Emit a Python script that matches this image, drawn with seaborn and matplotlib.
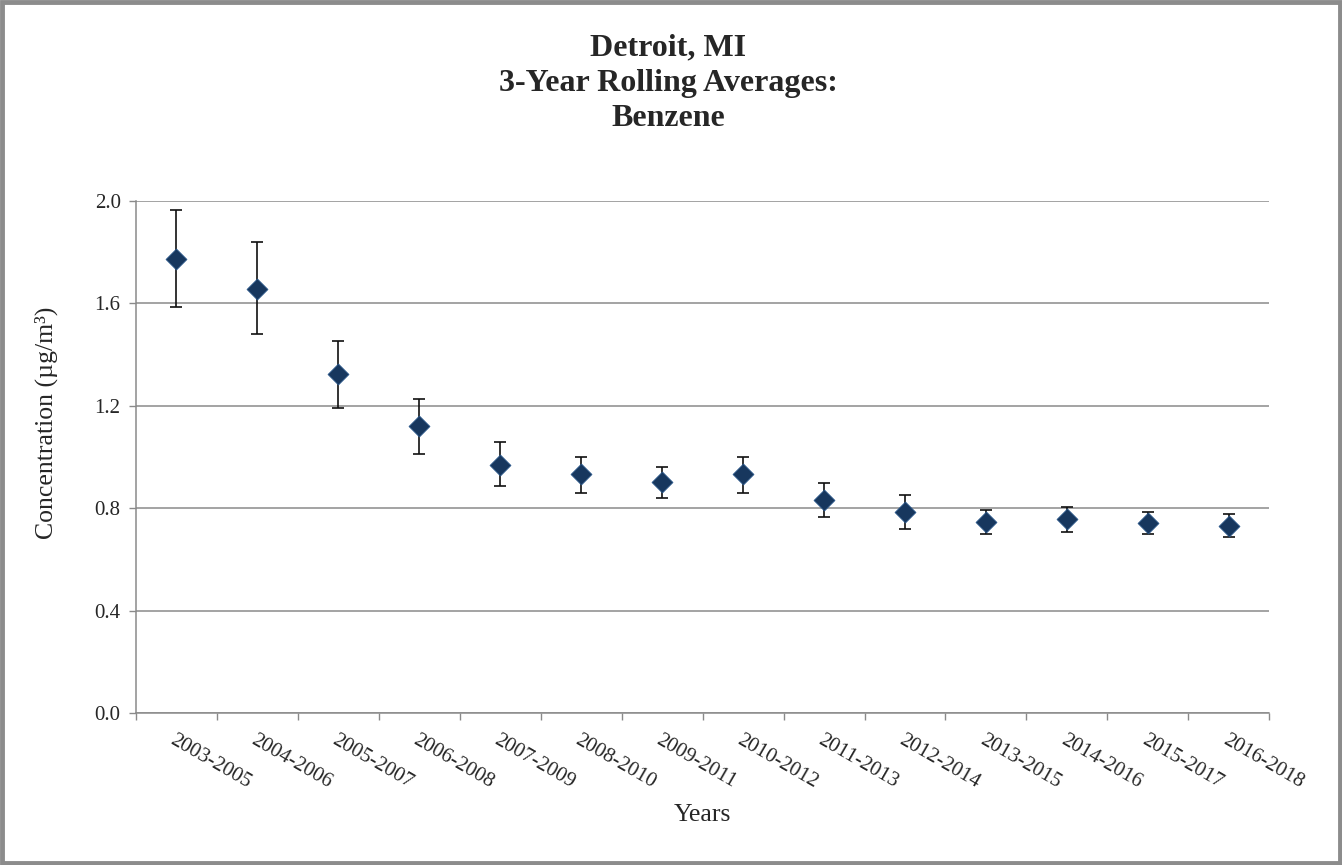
"""
Detroit, MI - 3-year rolling averages of benzene, with error bars.
"""

import numpy as np
import pandas as pd
import matplotlib
matplotlib.use("Agg")
import matplotlib.pyplot as plt
from matplotlib.patches import Rectangle
from matplotlib.ticker import FixedLocator
import seaborn as sns

periods = ['2003-2005', '2004-2006', '2005-2007', '2006-2008', '2007-2009',
           '2008-2010', '2009-2011', '2010-2012', '2011-2013', '2012-2014',
           '2013-2015', '2014-2016', '2015-2017', '2016-2018']
conc = [1.773, 1.656, 1.324, 1.121, 0.969, 0.934, 0.902,
        0.934, 0.834, 0.784, 0.746, 0.758, 0.742, 0.732]
lower = [1.586, 1.480, 1.191, 1.012, 0.887, 0.859, 0.840,
         0.859, 0.766, 0.717, 0.698, 0.707, 0.698, 0.689]
upper = [1.965, 1.840, 1.453, 1.227, 1.059, 1.000, 0.961,
         1.000, 0.897, 0.853, 0.792, 0.805, 0.785, 0.776]
y_ticks = [0.0, 0.4, 0.8, 1.2, 1.6, 2.0]

df = pd.DataFrame({'period': periods, 'conc': conc,
                   'lower': lower, 'upper': upper})

sns.set_theme(style='white')
plt.rcParams['font.family'] = ['Liberation Serif', 'DejaVu Serif']

fig = plt.figure(figsize=(13.42, 8.65), dpi=100)
ax = fig.add_axes([0.1013, 0.1757, 0.8445, 0.5919])

yerr = np.vstack([df['conc'] - df['lower'], df['upper'] - df['conc']])
ax.errorbar(df['period'], df['conc'], yerr=yerr, fmt='none',
            ecolor='#111111', elinewidth=1.2, capsize=4, capthick=1.2, zorder=2)
sns.scatterplot(data=df, x='period', y='conc', marker='D', s=115,
                color='#17375E', edgecolor='#2a5a8f', linewidth=0.5,
                ax=ax, zorder=3)

n = len(periods)
ax.set_xlim(-0.5, n - 0.5)
ax.set_ylim(0, 2.0)
ax.set_yticks(y_ticks)
ax.set_yticklabels([f'{v:.1f}' for v in y_ticks], fontsize=15)
ax.yaxis.grid(True, color='#8a8a8a', linewidth=1.1)
ax.set_axisbelow(True)

# labels at centres, tick marks on the category boundaries
ax.set_xticks(range(n))
ax.set_xticklabels(periods, fontsize=15, rotation=-30, ha='left',
                   va='top', rotation_mode='anchor')
ax.xaxis.set_minor_locator(FixedLocator(np.arange(-0.5, n, 1.0)))
ax.tick_params(axis='x', which='major', length=0, pad=13)
ax.tick_params(axis='x', which='minor', length=5, width=1,
               color='#8a8a8a', direction='out', bottom=True)
ax.tick_params(axis='y', length=5, width=1, color='#8a8a8a',
               direction='out', left=True, pad=6)

for side in ['top', 'right']:
    ax.spines[side].set_visible(False)
for side in ['left', 'bottom']:
    ax.spines[side].set_color('#8a8a8a')
    ax.spines[side].set_linewidth(1.1)

ax.set_xlabel('Years', fontsize=18.5, labelpad=8)
ax.set_ylabel('Concentration (µg/m³)', fontsize=18.5)
ax.yaxis.set_label_coords(-0.069, 0.566)

fig.text(0.498, 0.961, 'Detroit, MI\n3-Year Rolling Averages:\nBenzene',
         ha='center', va='top', fontsize=23, fontweight='bold',
         linespacing=1.27)

fig.patches.append(Rectangle((0.0015, 0.0025), 0.997, 0.995,
                             transform=fig.transFigure, fill=False,
                             edgecolor='#8c8c8c', linewidth=3.5))

plt.savefig('out.png', dpi=100)
plt.close()
